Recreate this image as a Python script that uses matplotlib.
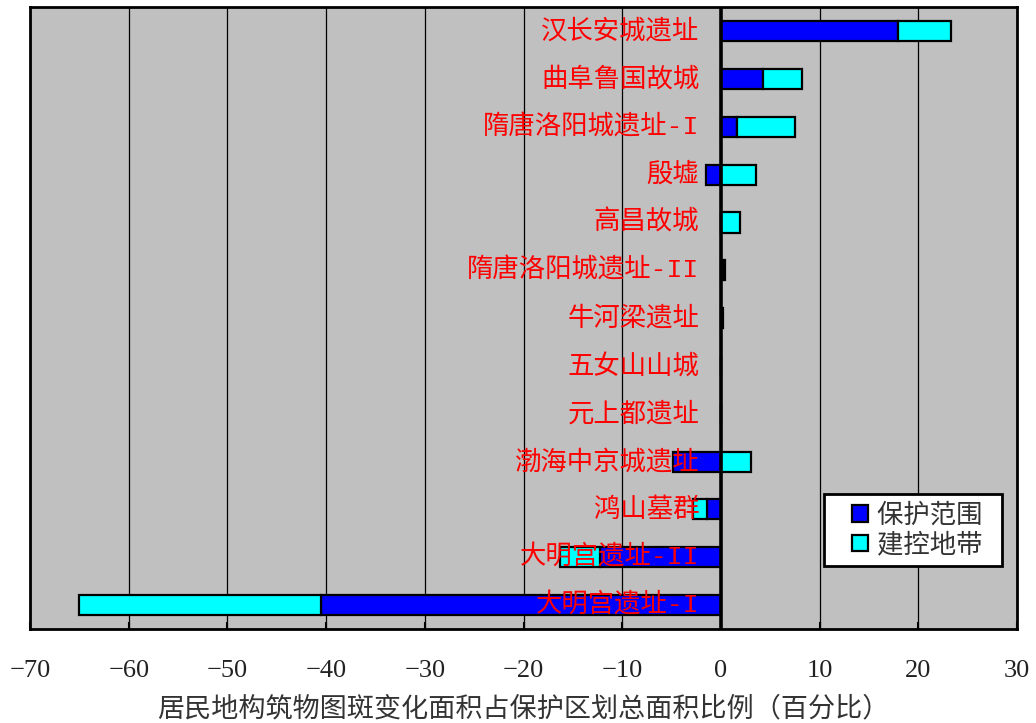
import matplotlib
matplotlib.use('Agg')
import matplotlib.pyplot as plt
from matplotlib.legend_handler import HandlerPatch
from matplotlib.patches import Rectangle
import numpy as np

plt.rcParams['font.family'] = ['Noto Sans CJK SC', 'DejaVu Sans']

sites = [
    '汉长安城遗址', '曲阜鲁国故城', '隋唐洛阳城遗址-I', '殷墟', '高昌故城',
    '隋唐洛阳城遗址-II', '牛河梁遗址', '五女山山城', '元上都遗址',
    '渤海中京城遗址', '鸿山墓群', '大明宫遗址-II', '大明宫遗址-I',
]
# 保护范围 / 建控地带 (%)
core = [17.9, 4.3, 1.6, -1.5, 0.0, 0.2, 0.1, 0.0, 0.0, -4.9, -1.4, -12.3, -40.5]
buffer = [5.4, 3.9, 5.9, 3.6, 1.9, 0.2, 0.1, 0.0, 0.0, 3.0, -1.4, -4.0, -24.5]
series_names = ['保护范围', '建控地带']
xticks = list(range(-70, 31, 10))

BLUE = '#0000ff'
CYAN = '#00ffff'

core = np.array(core)
buffer = np.array(buffer)
# buffer stacks on top of core when both share a sign, otherwise starts at 0
left_buf = np.where(np.sign(core) == np.sign(buffer), core, 0.0)


def square_handle(legend, orig_handle, xdescent, ydescent, width, height, fontsize):
    # small square pushed to the right end of the handle box
    s = 0.62 * fontsize
    return Rectangle((width - s - xdescent, -ydescent + (height - s) / 2), s, s)


fig = plt.figure(figsize=(10.36, 7.23), dpi=100)
ax = fig.add_axes([0.029, 0.130, 0.9527, 0.860])
ax.set_facecolor('#c0c0c0')

y = np.arange(len(sites))
h = 0.42
ax.barh(y, core, height=h, color=BLUE, edgecolor='black', linewidth=1.6, zorder=3)
ax.barh(y, buffer, left=left_buf, height=h, color=CYAN, edgecolor='black',
        linewidth=1.6, zorder=3)

for yi, name in zip(y, sites):
    ax.text(-2.2, yi, name, ha='right', va='center', color='red', fontsize=19,
            family=['Liberation Mono', 'Noto Sans CJK SC'], zorder=4)

ax.set_xlim(-70, 30)
ax.set_ylim(len(sites) - 0.5, -0.5)
ax.set_yticks([])
ax.set_xticks(xticks)
ax.set_xticklabels([f'\u2212{abs(t)}' if t < 0 else str(t) for t in xticks],
                   family=['Liberation Serif'], fontsize=19, color='#222222')
ax.tick_params(axis='x', direction='in', length=5, width=1.5, pad=22)
for t in xticks:
    ax.axvline(t, color='black', lw=0.9 if t != 0 else 2.6, zorder=1 if t != 0 else 5)
for s in ax.spines.values():
    s.set_linewidth(2)
    s.set_color('black')

ax.set_xlabel('居民地构筑物图斑变化面积占保护区划总面积比例（百分比）',
              fontsize=19.5, color='#333333', labelpad=10)

handles = [Rectangle((0, 0), 1, 1, facecolor=c, edgecolor='black', linewidth=1.6)
           for c in (BLUE, CYAN)]
leg = ax.legend(handles, [n + '  ' for n in series_names],
                loc='lower right', bbox_to_anchor=(0.985, 0.101), fontsize=19,
                frameon=True, fancybox=False, edgecolor='black', framealpha=1,
                facecolor='white',
                handler_map={Rectangle: HandlerPatch(patch_func=square_handle)},
                handlelength=1.36, handleheight=0.8, handletextpad=0.34,
                borderpad=0.3, labelspacing=0.1, borderaxespad=0)
leg.get_frame().set_linewidth(2)
for txt in leg.get_texts():
    txt.set_color('#333333')

fig.savefig('out.png', dpi=100)
